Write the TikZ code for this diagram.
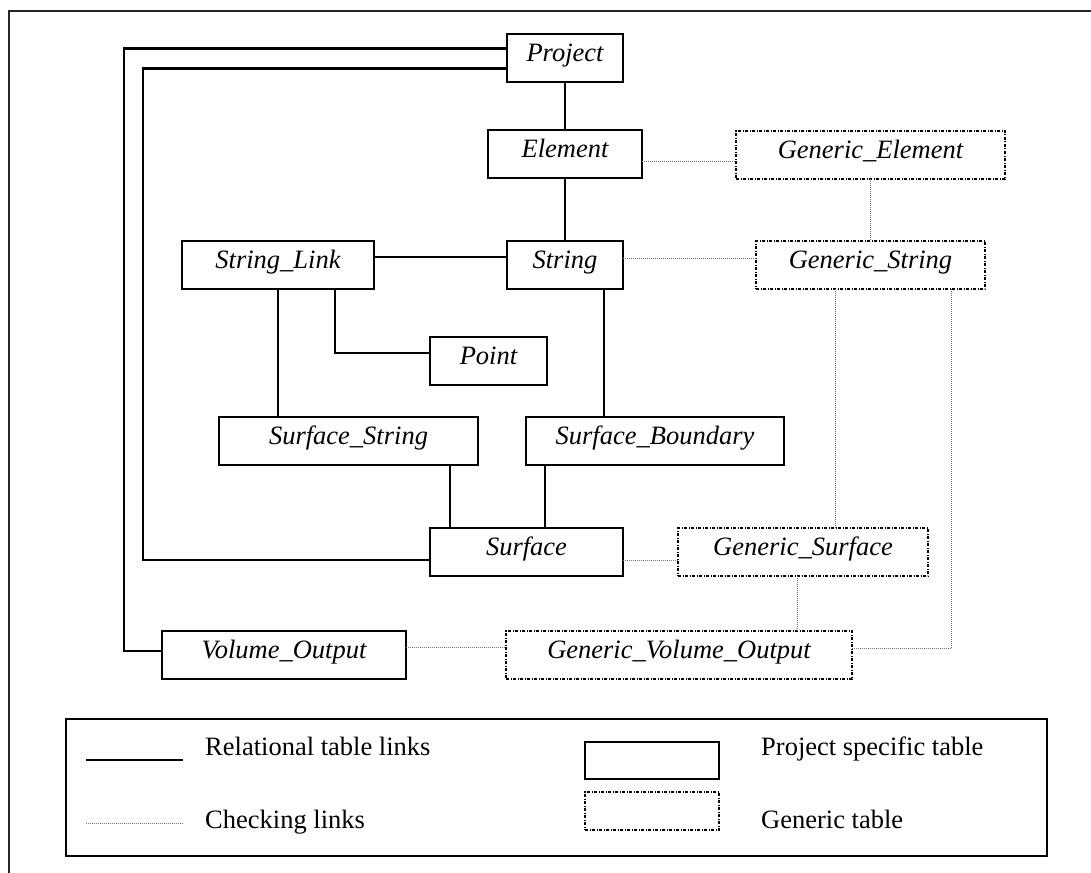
\documentclass[tikz,border=0pt]{standalone}
\usepackage{fontspec}
\setmainfont{Liberation Serif}
\usetikzlibrary{positioning}

\tikzset{
  tbl/.style={draw=black, line width=2.5pt, inner xsep=0pt, inner ysep=0pt,
    outer sep=0pt, text height=27.5pt, text depth=20.5pt, anchor=north west,
    font=\fontsize{26.5}{30}\selectfont\itshape},
  projtbl/.style={tbl},
  gentbl/.style={tbl, line width=1.8pt,
    dash pattern=on 3pt off 1.5pt on 1pt off 1.5pt},
  rel/.style={draw=black, line width=2.5pt},
  chk/.style={draw=black!55, line width=1pt, dash pattern=on 1pt off 1pt},
  legendtext/.style={anchor=base west, inner sep=0pt,
    font=\fontsize{26.5}{30}\selectfont},
}

\begin{document}
\begin{tikzpicture}[x=1pt, y=-1pt]
\useasboundingbox (0,0) rectangle (1091,872);

% page frame
\draw[black!85, line width=1.5pt] (1100,11) -- (9,11) -- (9,885);

% project specific tables
\node[projtbl, minimum width=116pt] (project)    at (507,34)  {Project};
\node[projtbl, minimum width=154pt] (element)    at (488,130) {Element};
\node[projtbl, minimum width=116pt] (string)     at (507,241) {String};
\node[projtbl, minimum width=192pt] (stringlink) at (182,241) {String\_Link};
\node[projtbl, minimum width=117pt] (point)      at (430,337) {Point};
\node[projtbl, minimum width=259pt] (surfstring) at (219,417) {Surface\_String};
\node[projtbl, minimum width=258pt] (surfbound)  at (526,417) {Surface\_Boundary};
\node[projtbl, minimum width=193pt] (surface)    at (430,528) {Surface};
\node[projtbl, minimum width=244pt] (volume)     at (162,631) {Volume\_Output};

% generic tables
\node[gentbl, minimum width=269pt] (genelem)    at (736,131) {Generic\_Element};
\node[gentbl, minimum width=229pt] (genstring)  at (756,241) {Generic\_String};
\node[gentbl, minimum width=250pt] (gensurface) at (678,528) {Generic\_Surface};
\node[gentbl, minimum width=346pt] (genvolume)  at (506,631) {Generic\_Volume\_Output};

% bends of the long project links
\coordinate (bendA) at (124,651);
\coordinate (bendB) at (143,560);

% relational table links
\draw[rel] (project) -- (element);
\draw[rel] (element) -- (string);
\draw[rel] ([yshift=8pt]stringlink.east) -- ([yshift=8pt]string.west);
\draw[rel] (stringlink.south) -- (stringlink.south |- surfstring.north);
\draw[rel] ([xshift=57pt]stringlink.south) |- ([yshift=8pt]point.west);
\draw[rel] ([xshift=39pt]string.south) -- ([xshift=39pt]string.south |- surfbound.north);
\draw[rel] ([xshift=20pt]surface.north west) -- ([xshift=20pt]surface.north west |- surfstring.south);
\draw[rel] ([xshift=115pt]surface.north west) -- ([xshift=115pt]surface.north west |- surfbound.south);
\draw[rel] ([yshift=9.5pt]project.west) -| (bendA) -- (bendA -| volume.west);
\draw[rel] ([yshift=-10.5pt]project.west) -| (bendB) -- (bendB -| surface.west);

% checking links
\draw[chk] ([yshift=-7.5pt]element.east) -- ([yshift=-7.5pt]element.east -| genelem.west);
\draw[chk] (genelem.south) -- (genelem.south |- genstring.north);
\draw[chk] ([yshift=7pt]string.east) -- ([yshift=7pt]string.east -| genstring.west);
\draw[chk] ([xshift=-35.5pt]genstring.south) -- ([xshift=-35.5pt]genstring.south |- gensurface.north);
\draw[chk] ([xshift=80.5pt]genstring.south) |- ([yshift=6.5pt]genvolume.east);
\draw[chk] ([yshift=-8pt]surface.east) -- ([yshift=-8pt]surface.east -| gensurface.west);
\draw[chk] ([xshift=-6pt]gensurface.south) -- ([xshift=-6pt]gensurface.south |- genvolume.north);
\draw[chk] ([yshift=8pt]volume.east) -- ([yshift=8pt]volume.east -| genvolume.west);

% legend
\node[draw=black, line width=2.5pt, anchor=north west, inner sep=0pt, outer sep=0pt,
  minimum width=981pt, minimum height=137pt] (legend) at (66,719) {};
\coordinate (relA) at (86,760);
\coordinate (relB) at (183,760);
\coordinate (chkA) at (86,823);
\coordinate (chkB) at (183,823);
\draw[rel] (relA) -- (relB);
\draw[chk] (chkA) -- (chkB);
\node[legendtext] (reltext) at (205,755) {Relational table links};
\node[legendtext] (chktext) at (205,828) {Checking links};
\node[draw=black, line width=2.5pt, anchor=north west, inner sep=0pt, outer sep=0pt,
  minimum width=134pt, minimum height=37pt] (projkey) at (585,742) {};
\node[draw=black, line width=1.8pt, dash pattern=on 3pt off 1.5pt on 1pt off 1.5pt,
  anchor=north west, inner sep=0pt, outer sep=0pt,
  minimum width=134pt, minimum height=38pt] (genkey) at (585,792) {};
\node[legendtext] (projkeytext) at (761,755) {Project specific table};
\node[legendtext] (genkeytext) at (761,828) {Generic table};
\end{tikzpicture}
\end{document}
